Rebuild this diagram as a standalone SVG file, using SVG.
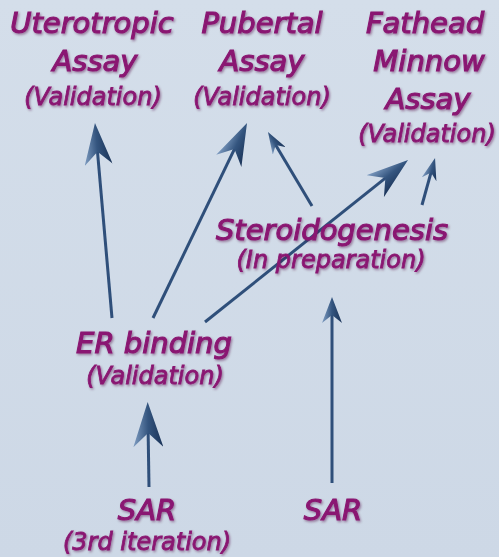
<svg xmlns="http://www.w3.org/2000/svg" width="499" height="557" viewBox="0 0 499 557">
  <defs>
    <linearGradient id="bg" x1="0" y1="0" x2="0" y2="1">
      <stop offset="0" stop-color="#d4deea"/>
      <stop offset="1" stop-color="#cdd8e6"/>
    </linearGradient>
    <linearGradient id="head" x1="0" y1="0" x2="0" y2="1">
      <stop offset="0" stop-color="#7f9dc2"/>
      <stop offset="0.5" stop-color="#34557f"/>
      <stop offset="1" stop-color="#1a3358"/>
    </linearGradient>
    <filter id="glow" x="-10%" y="-30%" width="120%" height="160%">
      <feDropShadow dx="1.2" dy="1.5" stdDeviation="1.3" flood-color="#4a0a3c" flood-opacity="0.45"/>
    </filter>
    <marker id="hL" viewBox="-42 -14 42 28" markerWidth="42" markerHeight="28" refX="-21" refY="0" orient="auto" markerUnits="userSpaceOnUse">
      <path d="M0,0 L-42,-14 L-29,0 L-42,14 Z" fill="url(#head)"/>
    </marker>
    <marker id="hXL" viewBox="-45 -15 45 30" markerWidth="45" markerHeight="30" refX="-22" refY="0" orient="auto" markerUnits="userSpaceOnUse">
      <path d="M0,0 L-45,-15 L-31,0 L-45,15 Z" fill="url(#head)"/>
    </marker>
    <marker id="hM" viewBox="-26 -10 26 20" markerWidth="26" markerHeight="20" refX="-13" refY="0" orient="auto" markerUnits="userSpaceOnUse">
      <path d="M0,0 L-26,-10 L-18,0 L-26,10 Z" fill="url(#head)"/>
    </marker>
    <marker id="hS" viewBox="-22 -7.5 22 15" markerWidth="22" markerHeight="15" refX="-11" refY="0" orient="auto" markerUnits="userSpaceOnUse">
      <path d="M0,0 L-22,-7.5 L-15,0 L-22,7.5 Z" fill="url(#head)"/>
    </marker>
    <style>
      .t { font-family: "DejaVu Sans", Verdana, sans-serif; font-style: italic; fill: #8a1572; stroke: #8a1572; stroke-width: 1.1; text-anchor: middle; filter: url(#glow); }
      .big { font-size: 29px; }
      .sm { font-size: 24px; stroke-width: 0.8; }
      .c { fill: none; stroke: #2f4f7a; stroke-width: 3; stroke-linecap: butt; }
    </style>
  </defs>
  <rect x="0" y="0" width="499" height="557" fill="url(#bg)"/>

  <g id="connectors">
    <line class="c" x1="112" y1="318" x2="96.8" y2="143.9" stroke-width="4" marker-end="url(#hL)"/>
    <line class="c" x1="153" y1="318" x2="237.9" y2="141.9" marker-end="url(#hL)"/>
    <line class="c" x1="205" y1="322" x2="391.6" y2="173.1" marker-end="url(#hL)"/>
    <line class="c" x1="312" y1="206" x2="273.6" y2="141.5" marker-end="url(#hS)"/>
    <line class="c" x1="422" y1="205" x2="432.1" y2="168.6" marker-end="url(#hS)"/>
    <line class="c" x1="332" y1="483" x2="332" y2="310" marker-end="url(#hM)"/>
    <line class="c" x1="149" y1="487" x2="148" y2="424" stroke-width="5" marker-end="url(#hXL)"/>
  </g>

  <g id="uterotropic">
    <text class="t big" x="92" y="33">Uterotropic</text>
    <text class="t big" x="95" y="71">Assay</text>
    <text class="t sm" x="93" y="105">(Validation)</text>
  </g>
  <g id="pubertal">
    <text class="t big" x="262" y="33">Pubertal</text>
    <text class="t big" x="262" y="71">Assay</text>
    <text class="t sm" x="262" y="105">(Validation)</text>
  </g>
  <g id="fathead">
    <text class="t big" x="425" y="33">Fathead</text>
    <text class="t big" x="429" y="71">Minnow</text>
    <text class="t big" x="428" y="109">Assay</text>
    <text class="t sm" x="427" y="142">(Validation)</text>
  </g>
  <g id="steroidogenesis">
    <text class="t big" x="332" y="240">Steroidogenesis</text>
    <text class="t sm" x="331" y="268">(In preparation)</text>
  </g>
  <g id="er-binding">
    <text class="t big" x="154" y="353">ER binding</text>
    <text class="t sm" x="155" y="384">(Validation)</text>
  </g>
  <g id="sar-left">
    <text class="t big" x="147" y="520">SAR</text>
    <text class="t sm" x="147" y="550">(3rd iteration)</text>
  </g>
  <g id="sar-right">
    <text class="t big" x="333" y="520">SAR</text>
  </g>
</svg>
